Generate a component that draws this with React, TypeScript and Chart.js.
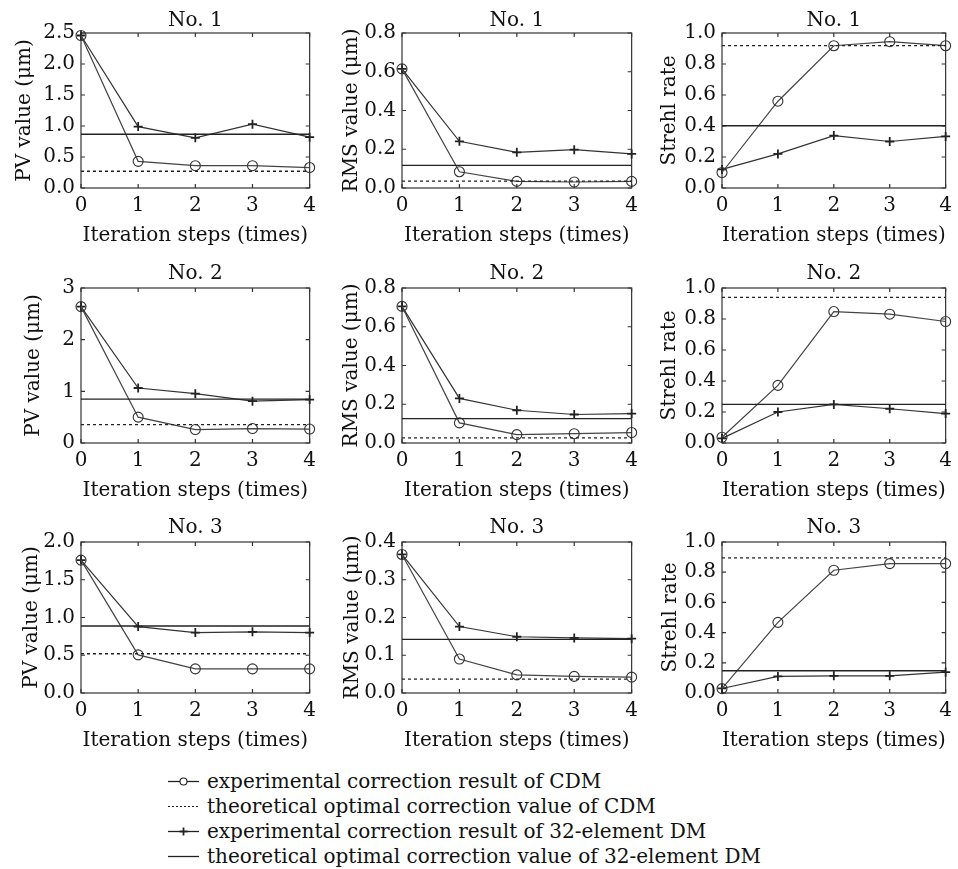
import React, { useEffect, useRef } from "react";
import { Chart, registerables } from "chart.js";
Chart.register(...registerables);

const FONT = "'DejaVu Serif', 'Liberation Serif', serif";
Chart.defaults.font.family = FONT;

// ---------------- data ----------------
const steps = [0, 1, 2, 3, 4];
const caseTitles = ["No. 1", "No. 2", "No. 3"];
const metricTitles = ["PV value (μm)", "RMS value (μm)", "Strehl rate"];
const xTitle = "Iteration steps (times)";

// No. 1
const pvCDM1 = [2.46, 0.43, 0.36, 0.36, 0.33];
const pvDM1 = [2.46, 0.99, 0.81, 1.03, 0.82];
const rmsCDM1 = [0.615, 0.084, 0.034, 0.031, 0.034];
const rmsDM1 = [0.615, 0.241, 0.184, 0.198, 0.176];
const srCDM1 = [0.1, 0.56, 0.918, 0.944, 0.918];
const srDM1 = [0.12, 0.22, 0.338, 0.3, 0.333];
// No. 2
const pvCDM2 = [2.64, 0.5, 0.26, 0.28, 0.27];
const pvDM2 = [2.64, 1.065, 0.955, 0.81, 0.84];
const rmsCDM2 = [0.705, 0.104, 0.043, 0.048, 0.054];
const rmsDM2 = [0.705, 0.23, 0.169, 0.147, 0.152];
const srCDM2 = [0.037, 0.372, 0.848, 0.831, 0.784];
const srDM2 = [0.03, 0.2, 0.249, 0.221, 0.19];
// No. 3
const pvCDM3 = [1.76, 0.505, 0.32, 0.32, 0.32];
const pvDM3 = [1.76, 0.88, 0.8, 0.81, 0.8];
const rmsCDM3 = [0.367, 0.09, 0.048, 0.044, 0.042];
const rmsDM3 = [0.367, 0.176, 0.149, 0.146, 0.144];
const srCDM3 = [0.029, 0.468, 0.813, 0.857, 0.857];
const srDM3 = [0.03, 0.11, 0.114, 0.114, 0.138];

// theoretical optimal values [PV, RMS, Strehl] for No.1..3
const theoryCDM1 = [0.27, 0.035, 0.918];
const theoryCDM2 = [0.355, 0.026, 0.94];
const theoryCDM3 = [0.52, 0.037, 0.895];
const theoryDM1 = [0.866, 0.117, 0.402];
const theoryDM2 = [0.85, 0.126, 0.249];
const theoryDM3 = [0.888, 0.142, 0.147];

// y tick values
const pvTicks1 = [0, 0.5, 1, 1.5, 2, 2.5];
const pvTicks2 = [0, 1, 2, 3];
const pvTicks3 = [0, 0.5, 1, 1.5, 2];
const rmsTicks12 = [0, 0.2, 0.4, 0.6, 0.8];
const rmsTicks3 = [0, 0.1, 0.2, 0.3, 0.4];
const srTicks = [0, 0.2, 0.4, 0.6, 0.8, 1.0];

const legendLabels = [
  "experimental correction result of CDM",
  "theoretical optimal correction value of CDM",
  "experimental correction result of 32-element DM",
  "theoretical optimal correction value of 32-element DM",
];

// ---------------- layout ----------------
const colL = [81, 402, 722];
const colR = [310, 632, 951];
const rowT = [33, 288, 542];
const rowB = [188, 443, 693];
const titlePadB = [0, 2, 2];
const padRight = [12, 12, 7];
const yAxisW = 74;
const xAxisH = 60;
const yTitlePads = [
  [6, 12, 10],
  [15, 12, 10],
  [13, 13, 11],
];
const TEXT = "#111";

const cdmSets = [
  [pvCDM1, rmsCDM1, srCDM1],
  [pvCDM2, rmsCDM2, srCDM2],
  [pvCDM3, rmsCDM3, srCDM3],
];
const dmSets = [
  [pvDM1, rmsDM1, srDM1],
  [pvDM2, rmsDM2, srDM2],
  [pvDM3, rmsDM3, srDM3],
];
const thCDM = [theoryCDM1, theoryCDM2, theoryCDM3];
const thDM = [theoryDM1, theoryDM2, theoryDM3];
const tickSets = [
  [pvTicks1, rmsTicks12, srTicks],
  [pvTicks2, rmsTicks12, srTicks],
  [pvTicks3, rmsTicks3, srTicks],
];
const tickDecimals = [
  [1, 1, 1],
  [0, 1, 1],
  [1, 1, 1],
];

const framePlugin = {
  id: "frame",
  beforeDatasetsDraw(chart: any) {
    const { ctx, chartArea, scales } = chart;
    const { left, top, right, bottom } = chartArea;
    ctx.save();
    ctx.strokeStyle = "#333";
    ctx.lineWidth = 1.2;
    ctx.strokeRect(left, top, right - left, bottom - top);
    ctx.beginPath();
    const tl = 4;
    scales.x.ticks.forEach((t: any) => {
      const px = scales.x.getPixelForValue(t.value);
      ctx.moveTo(px, bottom);
      ctx.lineTo(px, bottom - tl);
      ctx.moveTo(px, top);
      ctx.lineTo(px, top + tl);
    });
    scales.y.ticks.forEach((t: any) => {
      const py = scales.y.getPixelForValue(t.value);
      ctx.moveTo(left, py);
      ctx.lineTo(left + tl, py);
      ctx.moveTo(right, py);
      ctx.lineTo(right - tl, py);
    });
    ctx.stroke();
    ctx.restore();
  },
};

function Panel({ r, c }: { r: number; c: number }) {
  const ref = useRef<HTMLCanvasElement | null>(null);
  const L = colL[c], R = colR[c], T = rowT[r], B = rowB[r];
  const pb = titlePadB[r];
  const pr = padRight[c];
  const width = yAxisW + (R - L) + pr;
  const height = 24 + pb + (B - T) + xAxisH;
  const left = L - yAxisW;
  const top = T - 24 - pb;

  useEffect(() => {
    if (!ref.current) return;
    const cdm = cdmSets[r][c];
    const dm = dmSets[r][c];
    const tc = thCDM[r][c];
    const td = thDM[r][c];
    const yt = tickSets[r][c];
    const dec = tickDecimals[r][c];
    const x0 = steps[0];
    const x1 = steps[steps.length - 1];
    const chart = new Chart(ref.current, {
      type: "line",
      data: {
        datasets: [
          {
            label: legendLabels[1],
            data: [{ x: x0, y: tc }, { x: x1, y: tc }],
            borderColor: "#222",
            borderWidth: 1.3,
            borderDash: [3, 3],
            pointRadius: 0,
          },
          {
            label: legendLabels[3],
            data: [{ x: x0, y: td }, { x: x1, y: td }],
            borderColor: "#222",
            borderWidth: 1.4,
            pointRadius: 0,
          },
          {
            label: legendLabels[0],
            data: steps.map((s, i) => ({ x: s, y: cdm[i] })),
            borderColor: "#444",
            borderWidth: 1.2,
            pointStyle: "circle",
            pointRadius: 5,
            pointBorderWidth: 1.1,
            pointBorderColor: "#333",
            pointBackgroundColor: "rgba(0,0,0,0)",
          },
          {
            label: legendLabels[2],
            data: steps.map((s, i) => ({ x: s, y: dm[i] })),
            borderColor: "#333",
            borderWidth: 1.2,
            pointStyle: "cross",
            pointRadius: 4.5,
            pointBorderWidth: 1.8,
            pointBorderColor: "#222",
          },
        ],
      } as any,
      options: {
        animation: false,
        responsive: false,
        maintainAspectRatio: false,
        events: [],
        layout: { padding: { left: 0, right: pr, top: 0, bottom: 0 } },
        plugins: {
          legend: { display: false },
          tooltip: { enabled: false },
          title: {
            display: true,
            fullSize: false,
            text: caseTitles[r],
            color: TEXT,
            font: { family: FONT, size: 20, weight: "normal", lineHeight: 1.2 },
            padding: { top: 0, bottom: pb },
          },
        },
        datasets: { line: { clip: false } } as any,
        scales: {
          x: {
            type: "linear",
            min: x0,
            max: x1,
            grid: { display: false, drawTicks: false },
            border: { display: false },
            afterBuildTicks: (s: any) => {
              s.ticks = steps.map((v) => ({ value: v }));
            },
            afterFit: (s: any) => {
              s.height = xAxisH;
            },
            ticks: {
              color: TEXT,
              padding: 6,
              font: { family: FONT, size: 20, lineHeight: 1.2 },
              maxRotation: 0,
              callback: (v: any) => String(v),
            },
            title: {
              display: true,
              text: xTitle,
              color: TEXT,
              font: { family: FONT, size: 20, lineHeight: 1.2 },
              padding: { top: 0, bottom: 0 },
            },
          },
          y: {
            type: "linear",
            min: yt[0],
            max: yt[yt.length - 1],
            grid: { display: false, drawTicks: false },
            border: { display: false },
            afterBuildTicks: (s: any) => {
              s.ticks = yt.map((v) => ({ value: v }));
            },
            afterFit: (s: any) => {
              s.width = yAxisW;
            },
            ticks: {
              color: TEXT,
              padding: 6,
              font: { family: FONT, size: 20, lineHeight: 1.2 },
              callback: (v: any) => Number(v).toFixed(dec),
            },
            title: {
              display: true,
              text: metricTitles[c],
              color: TEXT,
              font: { family: FONT, size: 20, lineHeight: 1.2 },
              padding: { top: yTitlePads[r][c], bottom: 0 },
            },
          },
        },
      } as any,
      plugins: [framePlugin],
    });
    return () => chart.destroy();
  }, [r, c]);

  return (
    <canvas
      ref={ref}
      width={width}
      height={height}
      style={{ position: "absolute", left, top, width, height }}
    />
  );
}

function LegendSymbol({ kind }: { kind: number }) {
  const w = 31, h = 25, y = 12.5;
  return (
    <svg width={w} height={h} style={{ display: "block" }}>
      <line
        x1={0}
        y1={y}
        x2={w}
        y2={y}
        stroke="#222"
        strokeWidth={kind === 1 ? 1.2 : 1.3}
        strokeDasharray={kind === 1 ? "2 2" : undefined}
      />
      {kind === 0 && <circle cx={w / 2} cy={y} r={3.5} fill="white" stroke="#222" strokeWidth={1.1} />}
      {kind === 2 && (
        <g stroke="#222" strokeWidth={1.8}>
          <line x1={w / 2 - 4} y1={y} x2={w / 2 + 4} y2={y} />
          <line x1={w / 2} y1={y - 4} x2={w / 2} y2={y + 4} />
        </g>
      )}
    </svg>
  );
}

export default function App() {
  const panels: React.ReactNode[] = [];
  for (let r = 0; r < 3; r++) for (let c = 0; c < 3; c++) panels.push(<Panel key={`${r}-${c}`} r={r} c={c} />);
  return (
    <div style={{ position: "absolute", left: 0, top: 0, width: 958, height: 869, background: "#fff", overflow: "hidden" }}>
      {panels}
      <div style={{ position: "absolute", left: 168, top: 769, fontFamily: FONT, fontSize: 20, color: TEXT }}>
        {legendLabels.map((lab, i) => (
          <div key={i} style={{ display: "flex", alignItems: "center", height: 25, whiteSpace: "nowrap" }}>
            <LegendSymbol kind={i} />
            <span style={{ marginLeft: 8, lineHeight: "25px" }}>{lab}</span>
          </div>
        ))}
      </div>
    </div>
  );
}
